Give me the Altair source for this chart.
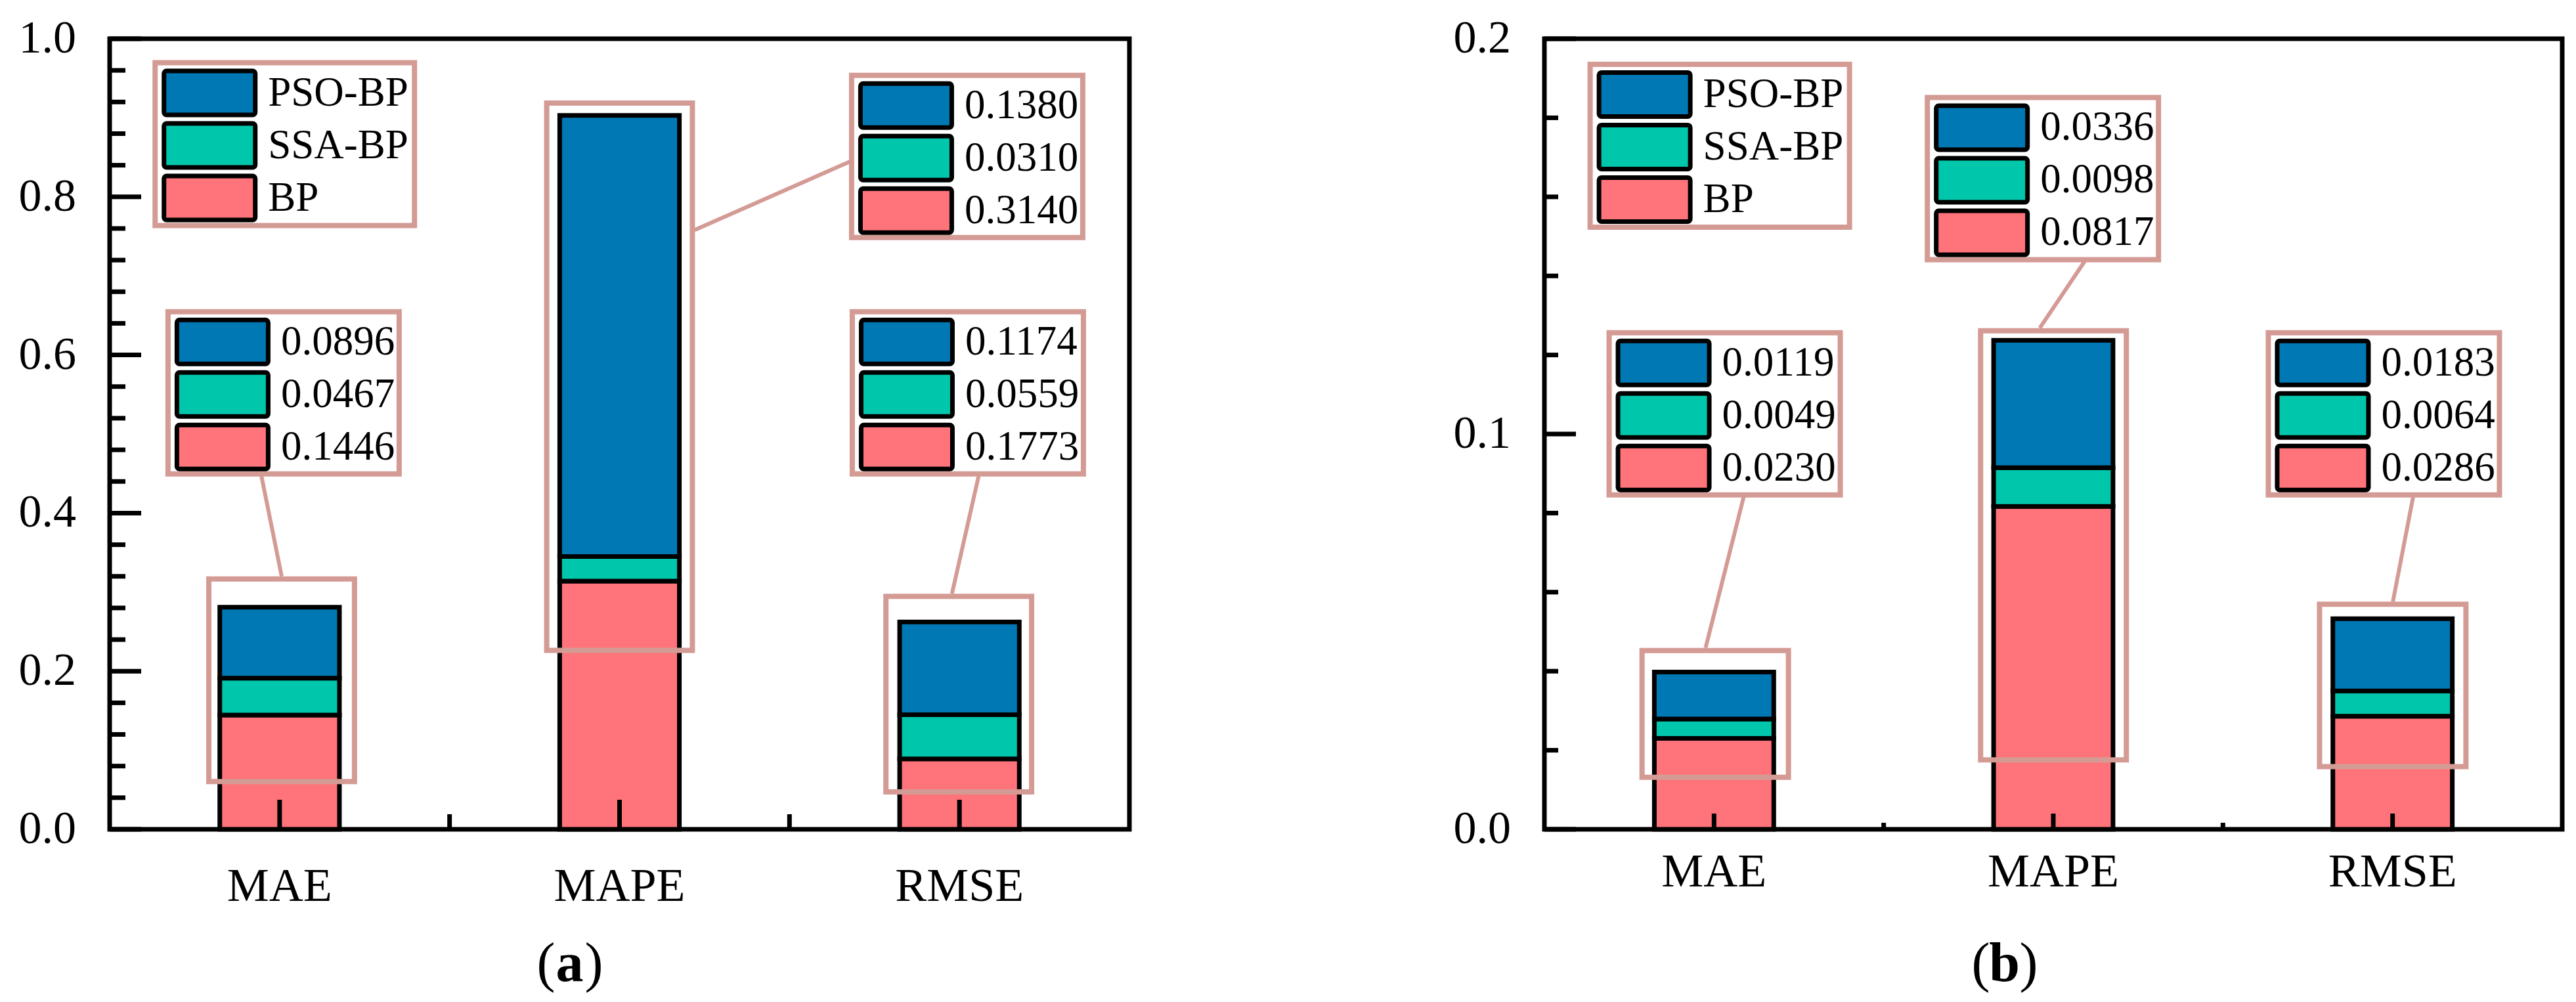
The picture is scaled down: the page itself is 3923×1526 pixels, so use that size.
import altair as alt
import pandas as pd

categories = ["MAE", "MAPE", "RMSE"]
series = ["BP", "SSA-BP", "PSO-BP"]
palette = ["#FF737A", "#00C6AB", "#0078B4"]
rose = "#D49B95"
FONT = "Liberation Serif, Times New Roman, serif"

# bar segment heights as drawn
a_bp = [0.1446, 0.3140, 0.0890]
a_ssa = [0.0467, 0.0310, 0.0559]
a_pso = [0.0896, 0.5580, 0.1174]
b_bp = [0.0230, 0.0817, 0.0286]
b_ssa = [0.0049, 0.0098, 0.0064]
b_pso = [0.0119, 0.0322, 0.0183]

# values printed in the callouts
a_note_bp = ["0.1446", "0.3140", "0.1773"]
a_note_ssa = ["0.0467", "0.0310", "0.0559"]
a_note_pso = ["0.0896", "0.1380", "0.1174"]
b_note_bp = ["0.0230", "0.0817", "0.0286"]
b_note_ssa = ["0.0049", "0.0098", "0.0064"]
b_note_pso = ["0.0119", "0.0336", "0.0183"]

a_major = [0.0, 0.2, 0.4, 0.6, 0.8, 1.0]
a_major_text = ["0.0", "0.2", "0.4", "0.6", "0.8", "1.0"]
a_minor = [0.04, 0.08, 0.12, 0.16, 0.24, 0.28, 0.32, 0.36, 0.44, 0.48,
           0.52, 0.56, 0.64, 0.68, 0.72, 0.76, 0.84, 0.88, 0.92, 0.96]
b_major = [0.0, 0.1, 0.2]
b_major_text = ["0.0", "0.1", "0.2"]
b_minor = [0.02, 0.04, 0.06, 0.08, 0.12, 0.14, 0.16, 0.18]

cat_pos = [0.5, 1.5, 2.5]
cat_bounds = [1.0, 2.0]

# annotation geometry (data units)
a_legend = (0.126, 0.973)
a_callouts = [(0.164, 0.658), (2.175, 0.957), (2.177, 0.658)]
a_frames = [(0.284, 0.728, 0.320, 0.057), (1.278, 1.722, 0.922, 0.223), (2.276, 2.720, 0.298, 0.044)]
a_links = [(0.446, 0.448, 0.506, 0.320), (1.721, 0.758, 2.185, 0.846), (2.557, 0.448, 2.478, 0.298)]
b_legend = (0.127, 0.1942)
b_callouts = [(0.183, 0.1263), (1.121, 0.1858), (2.126, 0.1263)]
b_frames = [(0.280, 0.727, 0.0459, 0.0125), (1.278, 1.723, 0.1268, 0.0169), (2.277, 2.724, 0.0576, 0.0152)]
b_links = [(0.588, 0.0843, 0.475, 0.0459), (1.594, 0.1439, 1.460, 0.1268), (2.561, 0.0843, 2.501, 0.0576)]


def panel(W, H, ymax, bp, ssa, pso, n_bp, n_ssa, n_pso, major, major_text, minor,
          legend_xy, callouts, frames, links, ytick_len, xtick_len, xlabel_gap, tag):
    ux = 3.0 / W
    uy = ymax / H
    xs = alt.Scale(domain=[0, 3], nice=False, zero=False)
    ys = alt.Scale(domain=[0, ymax], nice=False, zero=False)
    cs = alt.Scale(domain=series, range=palette)
    X = lambda f: alt.X(f, scale=xs, axis=None)
    Y = lambda f: alt.Y(f, scale=ys, axis=None)

    half = 0.176
    rows = []
    for i in range(3):
        base = 0.0
        for s, v in zip(series, (bp[i], ssa[i], pso[i])):
            rows.append(dict(x=cat_pos[i] - half, x2=cat_pos[i] + half, y=base, y2=base + v, series=s))
            base += v
    bars = alt.Chart(pd.DataFrame(rows)).mark_rect(stroke="black", strokeWidth=7).encode(
        x=X("x:Q"), x2="x2:Q", y=Y("y:Q"), y2="y2:Q",
        color=alt.Color("series:N", scale=cs, legend=None))

    ymaj = alt.Chart(pd.DataFrame({"v": major})).mark_rule(color="black", strokeWidth=7).encode(
        y=Y("v:Q"), x=alt.value(0), x2=alt.value(ytick_len[0]))
    ymin = alt.Chart(pd.DataFrame({"v": minor})).mark_rule(color="black", strokeWidth=7).encode(
        y=Y("v:Q"), x=alt.value(0), x2=alt.value(ytick_len[1]))
    xmaj = alt.Chart(pd.DataFrame({"v": cat_pos})).mark_rule(color="black", strokeWidth=7).encode(
        x=X("v:Q"), y=alt.value(H), y2=alt.value(H - xtick_len[0]))
    xmin = alt.Chart(pd.DataFrame({"v": cat_bounds})).mark_rule(color="black", strokeWidth=7).encode(
        x=X("v:Q"), y=alt.value(H), y2=alt.value(H - xtick_len[1]))

    fr = pd.DataFrame([dict(x=f[0] + 4 * ux, x2=f[1] - 4 * ux, y=f[2] - 4 * uy, y2=f[3] + 4 * uy)
                       for f in frames])
    frame_l = alt.Chart(fr).mark_rect(fillOpacity=0, stroke=rose, strokeWidth=8).encode(
        x=X("x:Q"), x2="x2:Q", y=Y("y:Q"), y2="y2:Q")

    lk = pd.DataFrame([dict(x=l[0], y=l[1], x2=l[2], y2=l[3]) for l in links])
    link_l = alt.Chart(lk).mark_rule(color=rose, strokeWidth=6).encode(
        x=X("x:Q"), x2="x2:Q", y=Y("y:Q"), y2="y2:Q")

    boxes, sws, txts = [], [], []
    groups = [(legend_xy, 403, 256, ["PSO-BP", "SSA-BP", "BP"])]
    for i in range(3):
        groups.append((callouts[i], 360, 255, [n_pso[i], n_ssa[i], n_bp[i]]))
    for (x0, y0), w, h, labels in groups:
        boxes.append(dict(x=x0 + 4 * ux, x2=x0 + (w - 4) * ux, y=y0 - 4 * uy, y2=y0 - (h - 4) * uy))
        for r, (s, t) in enumerate(zip(["PSO-BP", "SSA-BP", "BP"], labels)):
            sws.append(dict(x=x0 + 17.5 * ux, x2=x0 + 156.5 * ux,
                            y=y0 - (13 + 80 * r + 3.5) * uy, y2=y0 - (13 + 80 * r + 70.5) * uy, series=s))
            txts.append(dict(x=x0 + 176 * ux, y=y0 - (50 + 80 * r) * uy, t=t))
    box_l = alt.Chart(pd.DataFrame(boxes)).mark_rect(fill="white", stroke=rose, strokeWidth=8).encode(
        x=X("x:Q"), x2="x2:Q", y=Y("y:Q"), y2="y2:Q")
    sw_l = alt.Chart(pd.DataFrame(sws)).mark_rect(stroke="black", strokeWidth=7, cornerRadius=4).encode(
        x=X("x:Q"), x2="x2:Q", y=Y("y:Q"), y2="y2:Q",
        color=alt.Color("series:N", scale=cs, legend=None))
    txt_l = alt.Chart(pd.DataFrame(txts)).mark_text(
        align="left", baseline="middle", font=FONT, fontSize=63, color="black").encode(
        x=X("x:Q"), y=Y("y:Q"), text="t:N")

    ylab = alt.Chart(pd.DataFrame({"v": major, "t": major_text})).mark_text(
        align="right", baseline="middle", font=FONT, fontSize=70, color="black").encode(
        y=Y("v:Q"), x=alt.value(-51), text="t:N")
    xlab = alt.Chart(pd.DataFrame({"v": cat_pos, "t": categories})).mark_text(
        align="center", baseline="alphabetic", font=FONT, fontSize=72, color="black").encode(
        x=X("v:Q"), y=alt.value(H + xlabel_gap), text="t:N")

    tx, ty = 700.5, H + 230.5
    t1 = alt.Chart(pd.DataFrame({"t": ["("]})).mark_text(
        align="right", baseline="alphabetic", font=FONT, fontSize=84, color="black").encode(
        x=alt.value(tx - 22), y=alt.value(ty), text="t:N")
    t2 = alt.Chart(pd.DataFrame({"t": [tag]})).mark_text(
        align="center", baseline="alphabetic", font=FONT, fontSize=84, fontWeight="bold", color="black").encode(
        x=alt.value(tx), y=alt.value(ty), text="t:N")
    t3 = alt.Chart(pd.DataFrame({"t": [")"]})).mark_text(
        align="left", baseline="alphabetic", font=FONT, fontSize=84, color="black").encode(
        x=alt.value(tx + 23), y=alt.value(ty), text="t:N")

    return alt.layer(bars, xmaj, xmin, ymaj, ymin, frame_l, link_l, box_l, sw_l, txt_l,
                     ylab, xlab, t1, t2, t3).properties(width=W, height=H)


pa = panel(1553, 1204, 1.0, a_bp, a_ssa, a_pso, a_note_bp, a_note_ssa, a_note_pso,
           a_major, a_major_text, a_minor, a_legend, a_callouts, a_frames, a_links,
           (48, 24), (45, 23), 108.5, "a")
pb = panel(1550, 1204, 0.2, b_bp, b_ssa, b_pso, b_note_bp, b_note_ssa, b_note_pso,
           b_major, b_major_text, b_minor, b_legend, b_callouts, b_frames, b_links,
           (48, 21), (24, 10), 86.5, "b")

chart = alt.hconcat(pa, pb, spacing=486).properties(
    padding={"left": 17, "top": 12, "right": 5, "bottom": 5}
).configure_view(stroke="black", strokeWidth=7)

chart.save("out.html", embed_options={"renderer": "svg", "actions": False})
